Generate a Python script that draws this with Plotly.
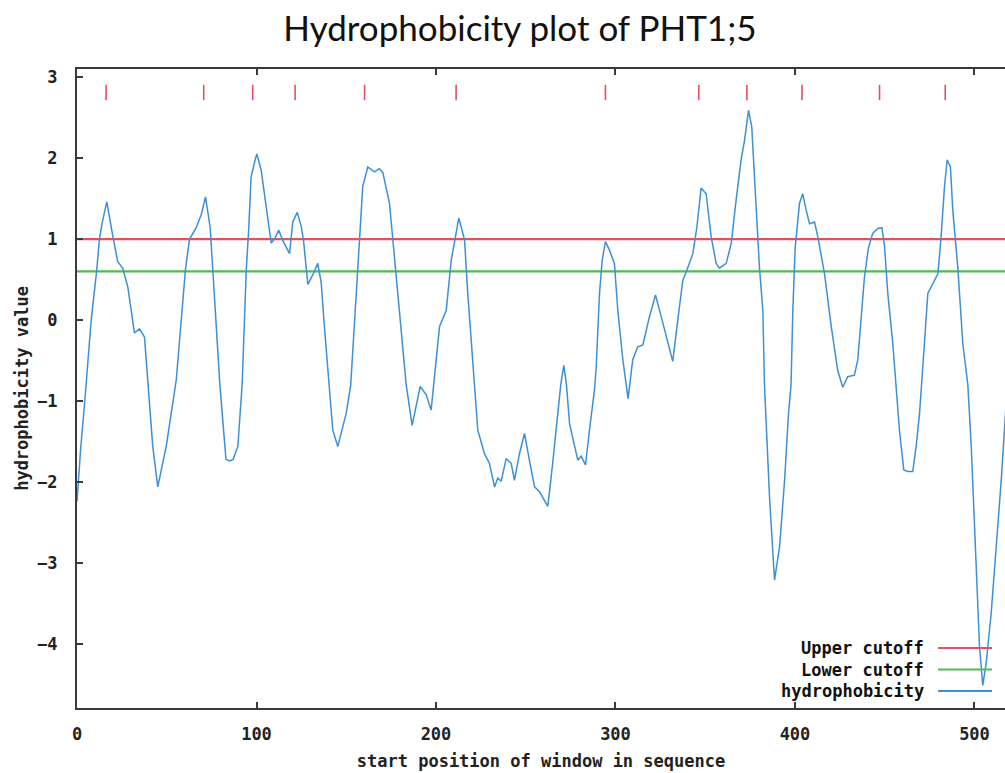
import plotly.graph_objects as go

# ---- data ----
pos = [0, 2, 4.7, 7.9, 11, 12.5, 14, 16.6, 20, 22.7, 25.5, 28.3, 32, 34.8, 37.6, 39.5,
       42.2, 45, 49.7, 55.3, 58, 60.4, 62.7, 66.4, 69.2, 71.6, 74.2, 75.7, 77.5, 79.6,
       83, 85, 87, 89.6, 92, 94.3, 95.7, 97, 99.5, 100.2, 102.6, 105.4, 108.2, 110,
       112.4, 114.7, 118.4, 120.2, 122.7, 124.9, 126.2, 128.6, 131.4, 134.1, 136, 137.9,
       140.7, 142.5, 145.3, 150, 152.5, 155.5, 157.4, 159.2, 162, 165.7, 168.5, 170.4,
       174.1, 176.9, 179.7, 183.4, 186.7, 191.2, 194.5, 197.3, 198.7, 202, 205.7, 208.5,
       212.7, 215.9, 217.7, 221, 223.3, 227, 229.8, 232.6, 234.4, 236.3, 239.1, 241.9,
       243.7, 246.5, 249.3, 252.1, 254.9, 257.7, 260.4, 262.3, 265, 267.9, 269.5, 271.2,
       272.7, 274.4, 279, 280.9, 283.3, 285.5, 288.3, 289.2, 291.1, 292.6, 294.4, 296.7,
       299.4, 301.3, 304.1, 307, 309.6, 312.4, 315.2, 318.9, 322.3, 325.5, 327.3, 331.9,
       334.7, 337.5, 340.3, 343.1, 345.3, 347.7, 350.5, 353.3, 356.1, 357.9, 361.7, 364.5,
       367.2, 370, 371.9, 374.1, 375.9, 377.8, 380.2, 382.1, 383, 385.8, 388.6, 391.4,
       394.2, 396.4, 397.8, 398.8, 400.1, 402.5, 404.3, 406.2, 408.1, 410.9, 412.7, 416.4,
       420.2, 423.8, 426.6, 429.4, 433.1, 435, 438.7, 440.9, 443.3, 446.1, 448.4, 449.9,
       451.7, 454.5, 456.3, 458.2, 460.6, 462.8, 465.6, 467.5, 469.4, 470.6, 472.1, 474,
       476.8, 479.6, 481.4, 483.3, 484.8, 486.6, 487.9, 490.7, 493.5, 496.3, 498.2, 501,
       502.8, 504.6, 506.5, 509.3, 512.1, 514.9, 518]
hydro = [-2.24, -1.6, -0.9, 0.0, 0.62, 1.0, 1.2, 1.46, 1.03, 0.72, 0.64, 0.41, -0.16, -0.11, -0.21, -0.8,
         -1.56, -2.06, -1.56, -0.74, 0.0, 0.62, 1.0, 1.14, 1.30, 1.52, 1.14, 0.62, 0.0, -0.8,
         -1.72, -1.74, -1.72, -1.56, -0.8, 0.62, 1.14, 1.77, 2.0, 2.05, 1.85, 1.43, 0.95, 1.0,
         1.11, 0.98, 0.82, 1.21, 1.33, 1.16, 0.98, 0.44, 0.56, 0.70, 0.47, -0.10,
         -0.9, -1.36, -1.56, -1.15, -0.8, 0.33, 1.03, 1.65, 1.89, 1.83, 1.87, 1.82,
         1.44, 0.74, 0.12, -0.8, -1.30, -0.82, -0.92, -1.11, -0.8, -0.08, 0.12, 0.74,
         1.26, 0.99, 0.33, -0.72, -1.36, -1.65, -1.77, -2.06, -1.95, -1.99, -1.71, -1.77,
         -1.98, -1.65, -1.40, -1.74, -2.06, -2.12, -2.22, -2.30, -1.77, -1.15, -0.8, -0.56,
         -0.8, -1.28, -1.73, -1.68, -1.79, -1.36, -0.86, -0.6, 0.33, 0.74, 0.97, 0.86,
         0.70, 0.12, -0.49, -0.97, -0.49, -0.33, -0.31, 0.04, 0.31, 0.04, -0.12, -0.51,
         0.0, 0.49, 0.65, 0.82, 1.14, 1.63, 1.56, 1.03, 0.70, 0.64, 0.70, 0.95,
         1.48, 1.98, 2.22, 2.59, 2.39, 1.56, 0.65, 0.12, -0.8, -2.18, -3.21, -2.80,
         -1.98, -1.15, -0.8, 0.12, 0.89, 1.44, 1.56, 1.36, 1.19, 1.21, 1.03, 0.58,
         -0.08, -0.62, -0.83, -0.70, -0.68, -0.49, 0.53, 0.89, 1.07, 1.13, 1.14, 0.91,
         0.33, -0.29, -0.8, -1.36, -1.85, -1.87, -1.87, -1.56, -1.15, -0.8, -0.29, 0.33,
         0.45, 0.57, 1.03, 1.65, 1.98, 1.89, 1.36, 0.65, -0.29, -0.8, -1.56, -3.21,
         -4.03, -4.51, -4.24, -3.62, -2.80, -1.98, -0.9]

upper_cutoff = 1.0
lower_cutoff = 0.6
peak_positions = [16.2, 70.6, 97.9, 121.5, 160.2, 211.2, 294.4, 346.4, 373.2, 403.9, 447.1, 483.7]
peak_mark_level = 2.81

x_ticks = [0, 100, 200, 300, 400, 500]
y_ticks = [-4, -3, -2, -1, 0, 1, 2, 3]
legend_labels = ["Upper cutoff", "Lower cutoff", "hydrophobicity"]

x_range = [0, 517]
y_range = [-4.79, 3.1]

RED = "#e4505c"
GREEN = "#4cbf4c"
BLUE = "#3d90d8"
AX = "#3a3a3a"
MONO = "DejaVu Sans Mono"

fig = go.Figure()
fig.add_trace(go.Scatter(x=x_range, y=[upper_cutoff] * 2, mode="lines",
                         line=dict(color=RED, width=2.2), showlegend=False, hoverinfo="skip"))
fig.add_trace(go.Scatter(x=x_range, y=[lower_cutoff] * 2, mode="lines",
                         line=dict(color=GREEN, width=2.2), showlegend=False, hoverinfo="skip"))
fig.add_trace(go.Scatter(x=pos, y=hydro, mode="lines",
                         line=dict(color=BLUE, width=1.5), showlegend=False))
fig.add_trace(go.Scatter(x=peak_positions, y=[peak_mark_level] * len(peak_positions),
                         mode="markers", showlegend=False,
                         marker=dict(symbol="line-ns", size=11,
                                     line=dict(color=RED, width=1.6))))

# custom legend (text right-aligned, line key on the right)
L, R, T, B = 77, 1005, 69, 708
def px2paper(px, py):
    return (px - L) / (R - L), (B - py) / (B - T)

leg_y = [648, 669.5, 691]
leg_colors = [RED, GREEN, BLUE]
for lab, py, col in zip(legend_labels, leg_y, leg_colors):
    ax_, ay_ = px2paper(926, py)
    fig.add_annotation(x=ax_, y=ay_, xref="paper", yref="paper", text=lab,
                       showarrow=False, xanchor="right", yanchor="middle",
                       font=dict(family=MONO, size=17, color="#111", weight="bold"))
    x0, y0 = px2paper(938, py)
    x1, _ = px2paper(992, py)
    fig.add_shape(type="line", xref="paper", yref="paper", x0=x0, x1=x1, y0=y0, y1=y0,
                  line=dict(color=col, width=1.8))

fig.update_layout(
    width=1005, height=773,
    margin=dict(l=77, r=0, t=69, b=65),
    paper_bgcolor="white", plot_bgcolor="white",
    title=dict(text="Hydrophobicity plot of PHT1;5", x=520 / 1005, xanchor="center",
               y=1 - 29 / 773, yanchor="middle",
               font=dict(family="Lato", size=35, color="#111")),
    showlegend=False,
)
fig.update_xaxes(range=x_range, tickvals=x_ticks, ticks="inside", ticklen=6, tickwidth=1.5,
                 tickcolor=AX, showline=True, linecolor=AX, linewidth=2, mirror="ticks",
                 showgrid=False, zeroline=False, ticklabelstandoff=10,
                 tickfont=dict(family=MONO, size=17, color="#222", weight="bold"),
                 title=dict(text="start position of window in sequence", standoff=12,
                            font=dict(family=MONO, size=17, color="#222", weight="bold")))
fig.update_yaxes(range=y_range, tickvals=y_ticks, ticks="inside", ticklen=6, tickwidth=1.5,
                 tickcolor=AX, showline=True, linecolor=AX, linewidth=2,
                 showgrid=False, zeroline=False, ticklabelstandoff=14,
                 tickfont=dict(family=MONO, size=17, color="#222", weight="bold"),
                 title=dict(text="hydrophobicity value", standoff=4,
                            font=dict(family=MONO, size=17, color="#222", weight="bold")))

fig.write_html("out.html", config={"displayModeBar": False},
               post_script="document.body.style.margin='0';")
